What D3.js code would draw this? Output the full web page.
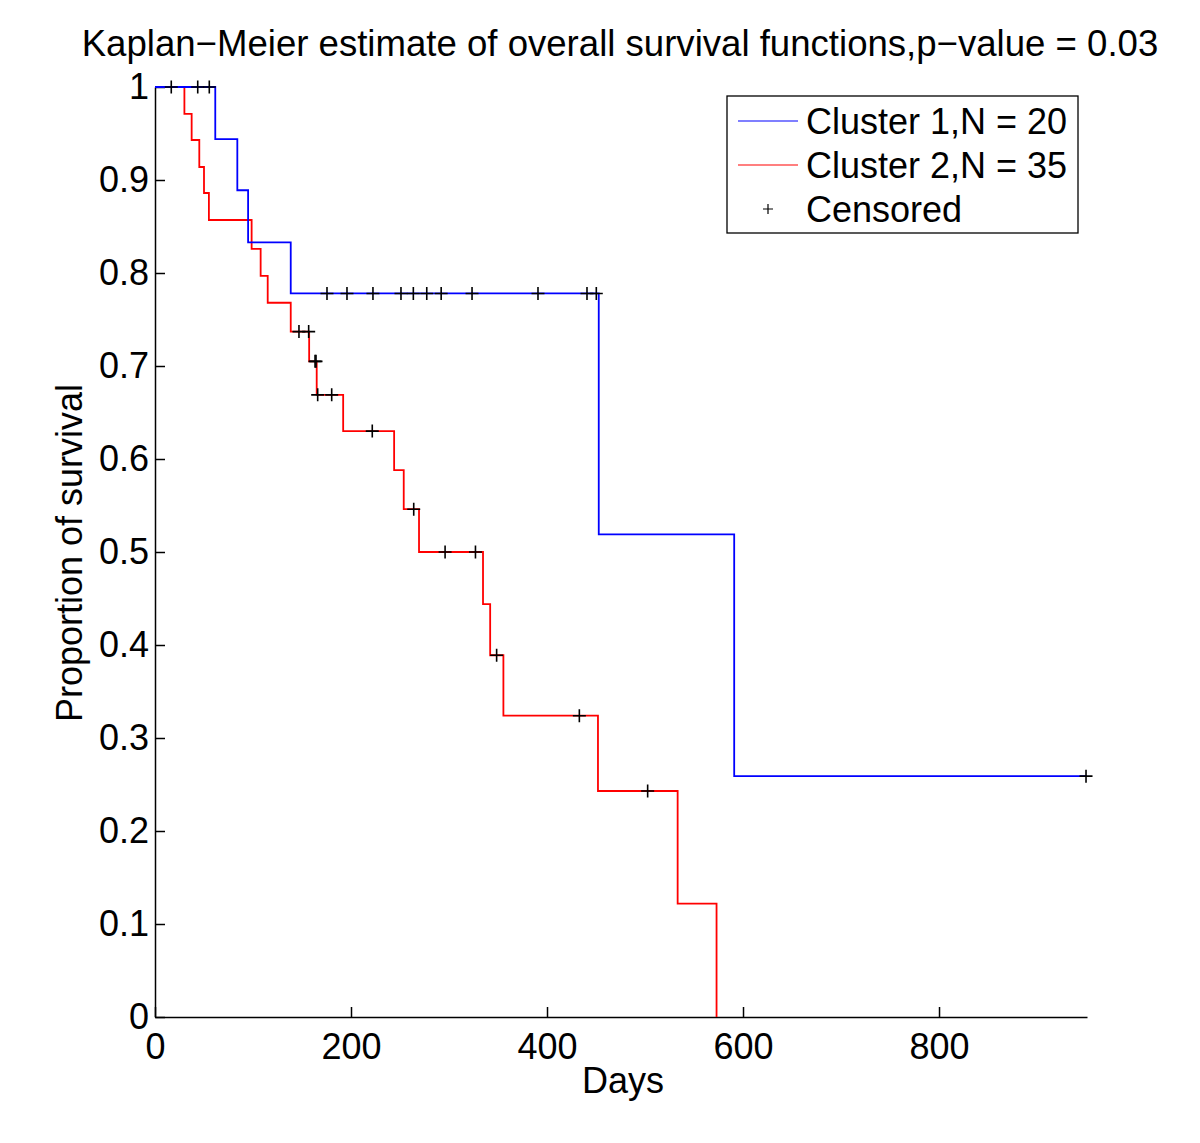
<!DOCTYPE html>
<html>
<head>
<meta charset="utf-8">
<script src="https://cdn.jsdelivr.net/npm/d3@7"></script>
<style>
  body { margin: 0; background: #fff; }
  svg text { font-family: "Liberation Sans", Arial, Helvetica, sans-serif; fill: #000; }
</style>
</head>
<body>
<div id="chart"></div>
<script>
// step points of the two survival curves (days, proportion surviving)
var c1Times = [0, 61.5, 84, 95, 138.5, 452.8, 591, 951];
var c1Surv  = [1, 0.944, 0.889, 0.833, 0.778, 0.519, 0.259, 0.259];
var c1Censored = [16.6, 43.6, 55.4, 175.5, 195.9, 222.4, 251, 263.6, 277.3, 292, 323.5, 390.8, 440.8, 450.3, 950];

var c2Times = [0, 30, 37.4, 45.2, 50, 55, 98.6, 107.8, 115, 138.5, 157.3, 165, 192, 244, 253.8, 269.4, 334.7, 342, 355.5, 452, 533.3, 573];
var c2Surv  = [1, 0.971, 0.943, 0.914, 0.886, 0.857, 0.826, 0.797, 0.768, 0.737, 0.705, 0.669, 0.630, 0.588, 0.546, 0.500, 0.444, 0.389, 0.324, 0.243, 0.122, 0];
var c2Censored = [146.9, 156.8, 163.3, 164.3, 166, 180.3, 221.7, 264, 296, 327, 348.6, 433, 502.7];

var xTicks = [0, 200, 400, 600, 800];
var yTicks = [0, 0.1, 0.2, 0.3, 0.4, 0.5, 0.6, 0.7, 0.8, 0.9, 1];

var legendLabels = ["Cluster 1,N = 20", "Cluster 2,N = 35", "Censored"];

var width = 1200,
    height = 1143;

var x = d3.scaleLinear().domain([0, 951]).range([155, 1087]);
var y = d3.scaleLinear().domain([0, 1]).range([1017, 87]);

var svg = d3.select("#chart").append("svg")
    .attr("width", width)
    .attr("height", height);

// survival value at time t (step function, right-continuous)
function survAt(times, surv, t) {
  var i = d3.bisectRight(times, t) - 1;
  return surv[Math.max(i, 0)];
}

function curve(times, surv) {
  return times.map(function(t, i) { return [t, surv[i]]; });
}

var line = d3.line()
    .x(function(d) { return x(d[0]); })
    .y(function(d) { return y(d[1]); })
    .curve(d3.curveStepAfter);

// axes (box off, ticks pointing inwards)
var xAxis = svg.append("g")
    .attr("transform", "translate(0,1017)")
    .call(d3.axisBottom(x).tickValues(xTicks).tickSizeInner(-10).tickSizeOuter(0).tickPadding(16));

var yAxis = svg.append("g")
    .attr("transform", "translate(155,0)")
    .call(d3.axisLeft(y).tickValues(yTicks).tickFormat(d3.format("")).tickSizeInner(-10).tickSizeOuter(0).tickPadding(6));

svg.selectAll(".domain, .tick line").attr("stroke", "#000").attr("stroke-width", 1.5);
svg.selectAll(".tick text").style("font-size", "36px");

var curves = svg.append("g");

curves.append("path")
    .datum(curve(c2Times, c2Surv))
    .attr("d", line)
    .attr("fill", "none")
    .attr("stroke", "#ff0000")
    .attr("stroke-width", 1.8);

curves.append("path")
    .datum(curve(c1Times, c1Surv))
    .attr("d", line)
    .attr("fill", "none")
    .attr("stroke", "#0000ff")
    .attr("stroke-width", 1.8);

function plus(d) {
  var px = x(d[0]), py = y(d[1]), r = 6.5;
  return "M" + (px - r) + "," + py + "H" + (px + r) + "M" + px + "," + (py - r) + "V" + (py + r);
}

var cens = c1Censored.map(function(t) { return [t, survAt(c1Times, c1Surv, t)]; })
    .concat(c2Censored.map(function(t) { return [t, survAt(c2Times, c2Surv, t)]; }));

curves.selectAll(".cens")
    .data(cens)
  .enter().append("path")
    .attr("class", "cens")
    .attr("d", plus)
    .attr("stroke", "#000")
    .attr("stroke-width", 1.6);

// titles
svg.append("text")
    .attr("x", 620)
    .attr("y", 56)
    .attr("text-anchor", "middle")
    .style("font-size", "36.6px")
    .text("Kaplan\u2212Meier estimate of overall survival functions,p\u2212value = 0.03");

svg.append("text")
    .attr("x", 623)
    .attr("y", 1093)
    .attr("text-anchor", "middle")
    .style("font-size", "36px")
    .text("Days");

svg.append("text")
    .attr("transform", "translate(82,553) rotate(-90)")
    .attr("text-anchor", "middle")
    .style("font-size", "36px")
    .text("Proportion of survival");

// legend
var legend = svg.append("g");

legend.append("rect")
    .attr("x", 727)
    .attr("y", 96)
    .attr("width", 351)
    .attr("height", 137)
    .attr("fill", "#fff")
    .attr("stroke", "#000")
    .attr("stroke-width", 1.3);

var rows = legend.selectAll(".row")
    .data(legendLabels)
  .enter().append("g")
    .attr("transform", function(d, i) { return "translate(0," + (121 + i * 44) + ")"; });

rows.filter(function(d, i) { return i < 2; })
  .append("line")
    .attr("x1", 738)
    .attr("x2", 798)
    .attr("stroke", function(d, i) { return i == 0 ? "#0000ff" : "#ff0000"; })
    .attr("stroke-width", 1.2);

rows.filter(function(d, i) { return i == 2; })
  .append("path")
    .attr("d", "M763,0H773M768,-5V5")
    .attr("stroke", "#000")
    .attr("stroke-width", 1.2);

rows.append("text")
    .attr("x", 806)
    .attr("y", 13)
    .style("font-size", "36px")
    .text(function(d) { return d; });
</script>
</body>
</html>
